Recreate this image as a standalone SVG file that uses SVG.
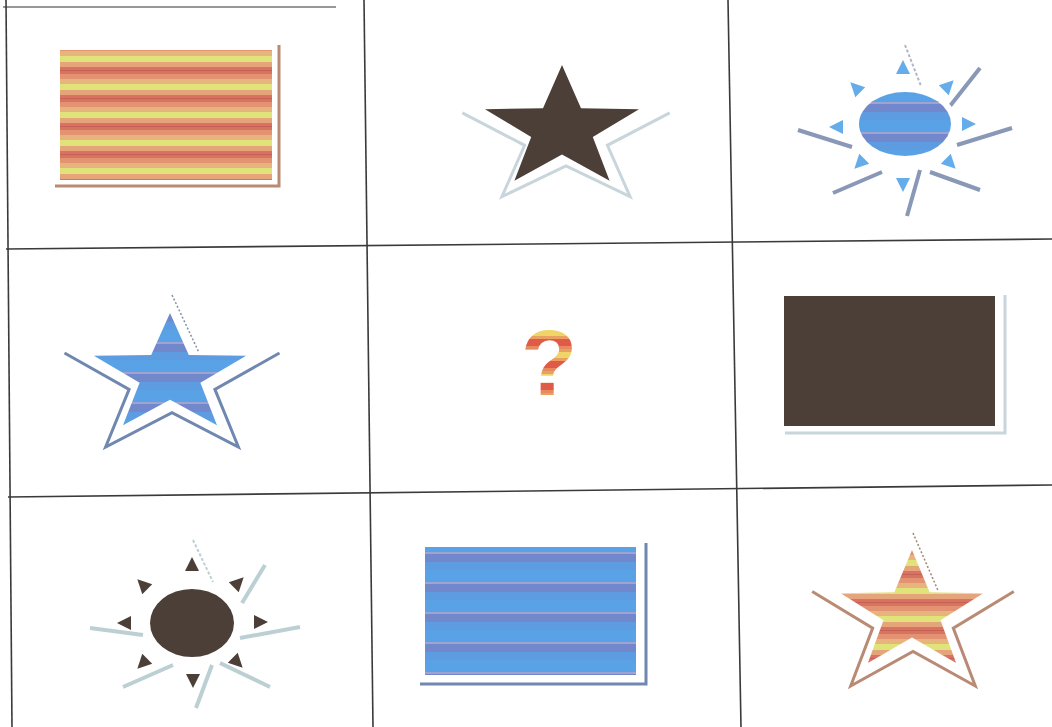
<svg xmlns="http://www.w3.org/2000/svg" width="1052" height="727" viewBox="0 0 1052 727">
<style>
.grid{stroke:#3a3a3a;stroke-width:1.6;fill:none}
.dark{fill:#4b3f38}
.shW{fill:none;stroke-width:3;stroke-linejoin:miter}
.shLight{stroke:#c8d6dc}
.shBlue{stroke:#7088b0}
.shWarm{stroke:#b98a74}
.ray{stroke-width:4;stroke-linecap:butt;fill:none}
.q{font-family:"Liberation Sans",Arial,sans-serif;font-weight:bold;font-size:92px}
</style>
<defs>
<pattern id="warm" patternUnits="userSpaceOnUse" width="20" height="28">
<rect width="20" height="28" fill="#e6a47a"/>
<rect y="0" width="20" height="6" fill="#e0e27a"/>
<rect y="11" width="20" height="7" fill="#d6745f"/>
<rect y="18" width="20" height="5" fill="#e39272"/>
<rect y="23" width="20" height="5" fill="#e8b47e"/>
<rect y="14" width="20" height="1" fill="#c86058"/>
</pattern>
<pattern id="warmq" patternUnits="userSpaceOnUse" width="20" height="22">
<rect width="20" height="22" fill="#eaa060"/>
<rect y="0" width="20" height="6" fill="#f0d468"/>
<rect y="9" width="20" height="7" fill="#e05a48"/>
<rect y="16" width="20" height="3" fill="#e88a60"/>
</pattern>
<pattern id="blue" patternUnits="userSpaceOnUse" width="20" height="30">
<rect width="20" height="30" fill="#5aa2e6"/>
<rect y="12" width="20" height="2" fill="#a0a2d0"/>
<rect y="14" width="20" height="8" fill="#7288cc"/>
<rect y="22" width="20" height="8" fill="#5e9ce2"/>
</pattern>
<path id="tri" d="M0,-8 L7,6 L-7,6 Z"/>
</defs>

<g id="grid">
<line class="grid" x1="3" y1="7" x2="336" y2="7" stroke-opacity="0.7"/>
<line class="grid" x1="6" y1="0" x2="12" y2="727"/>
<line class="grid" x1="364" y1="0" x2="373" y2="727"/>
<line class="grid" x1="728" y1="0" x2="741" y2="727"/>
<line class="grid" x1="6" y1="249" x2="1052" y2="239"/>
<line class="grid" x1="8" y1="497" x2="1052" y2="485"/>
</g>

<g id="warm-rect">
<path class="shW shWarm" d="M279,45 V186 H55"/>
<rect x="60" y="50" width="212" height="130" fill="url(#warm)"/>
</g>

<g id="dark-star">
<path class="shW shLight" d="M462.3,112.8 L524.6,145.3 L501.9,196.7 L566,166 L630.1,196.7 L607.4,145.3 L669.7,112.8"/>
<path class="dark" d="M562,65 L581,108.3 L639,109.2 L592.8,136.9 L609.6,180.8 L562,154.6 L514.4,180.8 L531.2,136.9 L485,109.2 L543,108.3 Z"/>
</g>

<g id="blue-sun">
<g class="ray" stroke="#8898b6">
<line x1="905" y1="45" x2="921" y2="86" stroke="#b0b8c8" stroke-width="2" stroke-dasharray="3 2"/>
<line x1="980" y1="68" x2="950" y2="106"/>
<line x1="1012" y1="128" x2="957" y2="145"/>
<line x1="980" y1="190" x2="930" y2="172"/>
<line x1="907" y1="216" x2="920" y2="170"/>
<line x1="833" y1="193" x2="882" y2="172"/>
<line x1="798" y1="130" x2="852" y2="147"/>
</g>
<ellipse cx="905" cy="124" rx="46" ry="32" fill="url(#blue)" stroke="#fff" stroke-width="12" paint-order="stroke"/>
<g fill="#64acea">
<use href="#tri" transform="translate(903,68)"/>
<use href="#tri" transform="translate(948,86) rotate(45)"/>
<use href="#tri" transform="translate(968,124) rotate(90)"/>
<use href="#tri" transform="translate(950,163) rotate(135)"/>
<use href="#tri" transform="translate(903,184) rotate(180)"/>
<use href="#tri" transform="translate(860,163) rotate(225)"/>
<use href="#tri" transform="translate(837,127) rotate(270)"/>
<use href="#tri" transform="translate(856,88) rotate(315)"/>
</g>
</g>

<g id="blue-star">
<path class="shW shBlue" d="M64.5,353 L129.1,389.4 L105.6,447 L172,412.6 L238.4,447 L214.9,389.4 L279.5,353"/>
<line x1="172" y1="295" x2="198.6" y2="351.8" stroke="#8090a8" stroke-width="1.5" stroke-dasharray="2 2"/>
<path fill="url(#blue)" d="M170,313 L188.8,354.9 L246.1,355.8 L200.4,382.7 L217,425.2 L170,399.8 L123,425.2 L139.6,382.7 L93.9,355.8 L151.2,354.9 Z"/>
</g>

<g id="question">
<text class="q" x="549" y="395" text-anchor="middle" fill="url(#warmq)">?</text>
</g>

<g id="dark-rect">
<path class="shW shLight" d="M1005,295 V433 H785"/>
<rect class="dark" x="784" y="296" width="211" height="130"/>
</g>

<g id="dark-sun">
<g class="ray" stroke="#bcd0d4">
<line x1="193" y1="540" x2="213" y2="582" stroke-width="2" stroke-dasharray="3 2"/>
<line x1="265" y1="565" x2="242" y2="603"/>
<line x1="300" y1="627" x2="240" y2="638"/>
<line x1="270" y1="687" x2="220" y2="663"/>
<line x1="196" y1="708" x2="212" y2="665"/>
<line x1="123" y1="687" x2="173" y2="665"/>
<line x1="90" y1="628" x2="143" y2="635"/>
</g>
<ellipse class="dark" cx="192" cy="623" rx="42" ry="34" stroke="#fff" stroke-width="12" paint-order="stroke"/>
<g class="dark">
<use href="#tri" transform="translate(192,565)"/>
<use href="#tri" transform="translate(238,583) rotate(45)"/>
<use href="#tri" transform="translate(260,622) rotate(90)"/>
<use href="#tri" transform="translate(237,662) rotate(135)"/>
<use href="#tri" transform="translate(193,680) rotate(180)"/>
<use href="#tri" transform="translate(143,663) rotate(225)"/>
<use href="#tri" transform="translate(125,623) rotate(270)"/>
<use href="#tri" transform="translate(143,585) rotate(315)"/>
</g>
</g>

<g id="blue-rect">
<path class="shW shBlue" d="M646,543 V684 H420"/>
<rect x="425" y="547" width="211" height="128" fill="url(#blue)"/>
</g>

<g id="warm-star">
<path class="shW shWarm" d="M812.2,591.5 L872.7,628.1 L850.7,686 L913,651.4 L975.3,686 L953.3,628.1 L1013.8,591.5"/>
<line x1="913" y1="533" x2="937.9" y2="590.2" stroke="#a08878" stroke-width="1.5" stroke-dasharray="2 2"/>
<path fill="url(#warm)" d="M912,550 L929.6,592.3 L983.3,593.2 L940.5,620.3 L956.1,663.1 L912,637.5 L867.9,663.1 L883.5,620.3 L840.7,593.2 L894.4,592.3 Z"/>
</g>
</svg>
